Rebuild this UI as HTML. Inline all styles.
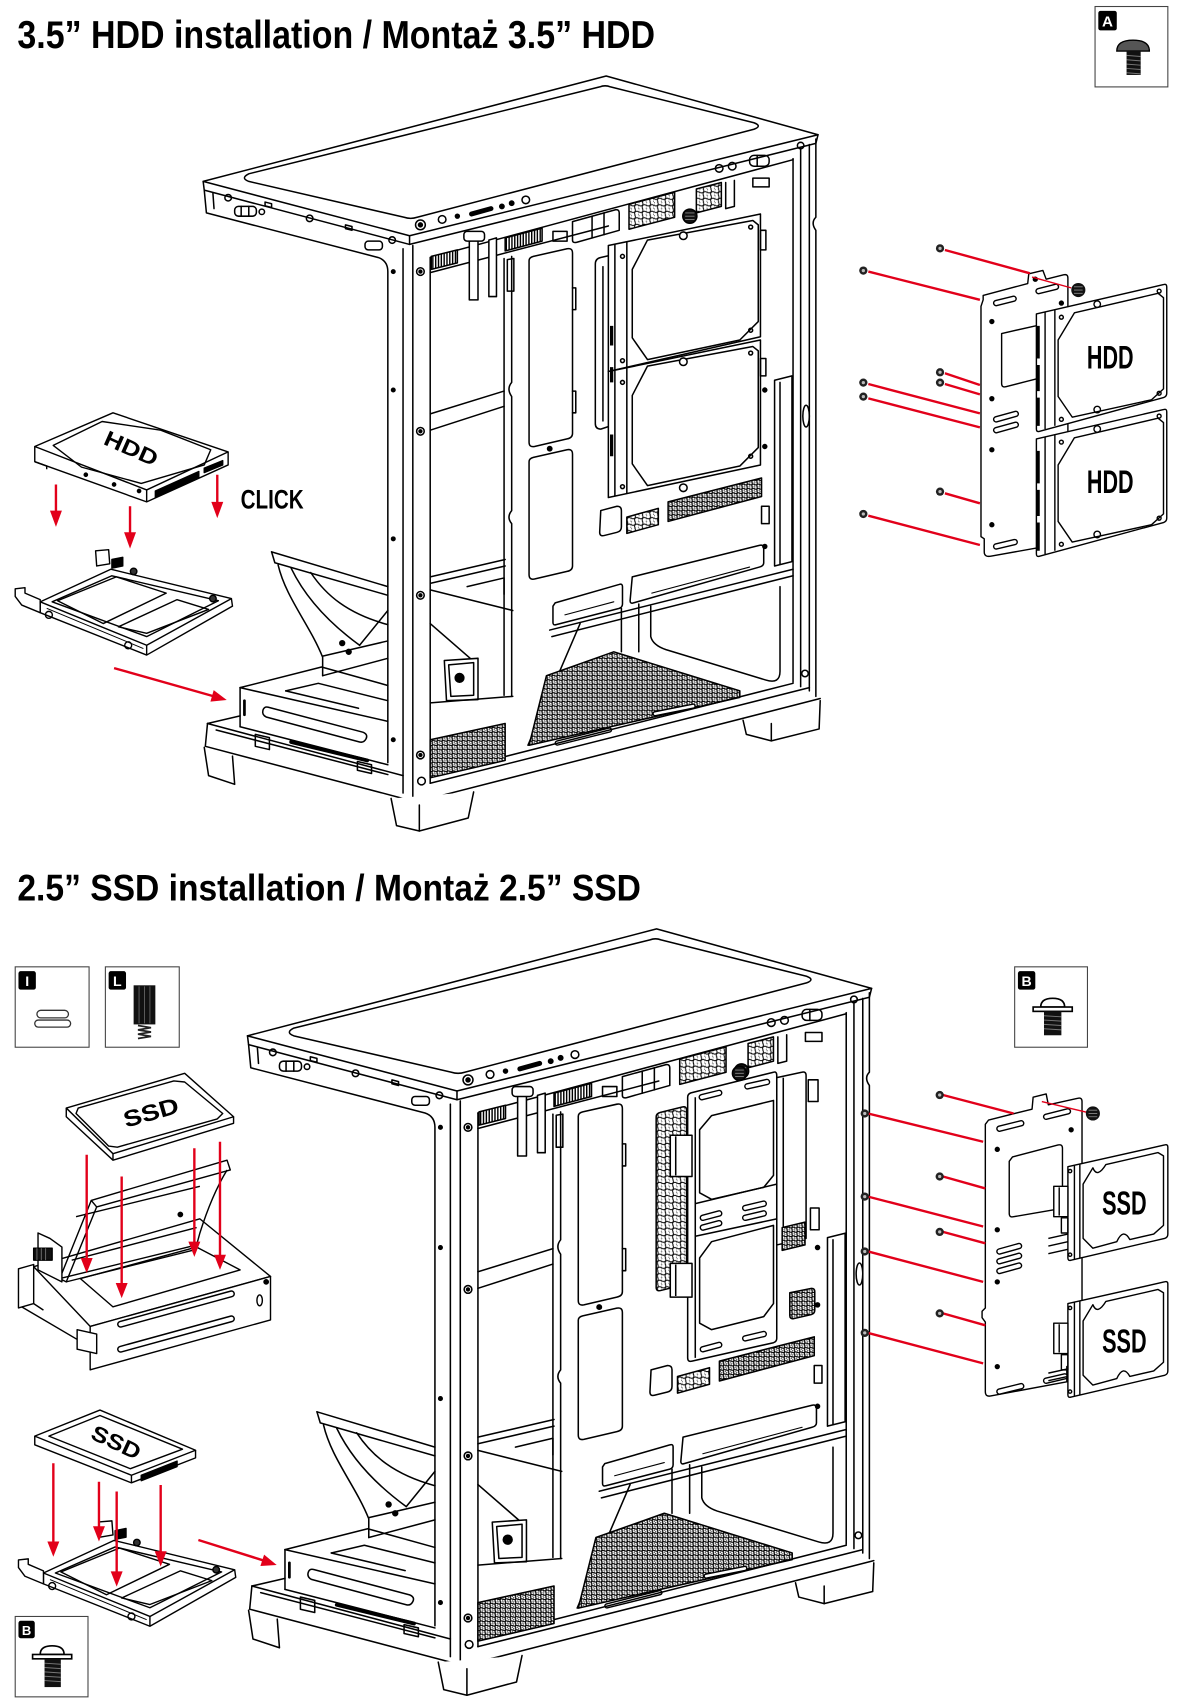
<!DOCTYPE html>
<html><head><meta charset="utf-8"><style>
html,body{margin:0;padding:0;background:#fff;}
svg{display:block;}
.t{font-family:"Liberation Sans Narrow","Liberation Sans",sans-serif;font-weight:bold;fill:#000;stroke:none;}
.w{font-family:"Liberation Sans",sans-serif;font-weight:bold;fill:#fff;stroke:none;}
</style></head><body>
<svg width="1195" height="1705" viewBox="0 0 1100 1569.5" preserveAspectRatio="none" xmlns="http://www.w3.org/2000/svg">
<defs>
 <pattern id="hex" width="4.6" height="4" patternUnits="userSpaceOnUse">
  <rect width="4.6" height="4" fill="#fff"/>
  <circle cx="1.15" cy="1" r="1.35" fill="none" stroke="#000" stroke-width="1"/>
  <circle cx="3.45" cy="3" r="1.35" fill="none" stroke="#000" stroke-width="1"/>
 </pattern>
 <pattern id="hex2" width="7" height="6" patternUnits="userSpaceOnUse">
  <rect width="7" height="6" fill="#fff"/>
  <circle cx="1.75" cy="1.5" r="2.1" fill="none" stroke="#000" stroke-width="0.9"/>
  <circle cx="5.25" cy="4.5" r="2.1" fill="none" stroke="#000" stroke-width="0.9"/>
 </pattern>
 <pattern id="hatch" width="2.6" height="10" patternUnits="userSpaceOnUse">
  <rect width="2.6" height="10" fill="#fff"/>
  <rect width="1.3" height="10" fill="#000"/>
 </pattern>
 <g id="sc"><circle r="3.8" fill="#222"/><circle r="1.5" fill="#bbb"/></g>
 <g id="ts"><circle r="6.5" fill="#111"/><path d="M-4,-3 L4,-3 M-4,0 L4,0 M-4,3 L4,3" stroke="#888" stroke-width="0.8"/></g>

 <g id="frame" fill="none" stroke="#000" stroke-width="1.4" stroke-linejoin="round" stroke-linecap="round">
  <path d="M187,167 L558,70 L753,124 L377,217 Z" fill="#fff"/>
  <path d="M187,167 L188,175 L377,225 L751,132 L753,124"/>
  <path d="M377,217 L377,225"/>
  <path d="M229,160 L552,80 Q557,78 562,80 L694,113 Q702,116 694,119 L384,200 Q378,202 372,200 L229,167 Q221,164 229,160 Z"/>
  <circle cx="387" cy="207" r="4.5"/><circle cx="387" cy="207" r="1.8" fill="#000"/>
  <circle cx="407" cy="202" r="3.5"/>
  <circle cx="421" cy="199" r="1.8" fill="#000"/>
  <path d="M434,197 L452,192" stroke-width="4.5"/>
  <circle cx="462" cy="190" r="2" fill="#000"/>
  <circle cx="471" cy="187" r="2" fill="#000"/>
  <circle cx="484" cy="184" r="3.5"/>
  <path d="M188,175 L190,196 L348,237 Q357,240 357,250 L357,702"/>
  <path d="M196,178 L197,192"/>
  <circle cx="210" cy="182" r="3"/>
  <rect x="216" y="190" width="20" height="9" rx="3.5"/>
  <path d="M222,190 L222,199 M229,190 L229,199"/>
  <circle cx="241" cy="195" r="2.5"/>
  <path d="M244,186 L250,187.5 L250,191 L244,189.5 Z"/>
  <circle cx="285" cy="201" r="3"/>
  <path d="M318,207 L324,208.5 L324,212 L318,210.5 Z"/>
  <rect x="336" y="222" width="16" height="8" rx="3"/>
  <circle cx="361" cy="221" r="3"/>
  <path d="M371,229 L371,730"/>
  <path d="M380,226 L380,739"/>
  <path d="M396,237 L396,721"/>
  <circle cx="387" cy="250" r="3.5"/><circle cx="387" cy="250" r="1.3" fill="#000"/>
  <circle cx="387" cy="397" r="3.5"/><circle cx="387" cy="397" r="1.3" fill="#000"/>
  <circle cx="387" cy="548" r="3.5"/><circle cx="387" cy="548" r="1.3" fill="#000"/>
  <circle cx="387" cy="695" r="3.5"/><circle cx="387" cy="695" r="1.3" fill="#000"/>
  <circle cx="388" cy="719" r="3.5"/>
  <circle cx="362" cy="250" r="1.6" fill="#000"/>
  <circle cx="362" cy="359" r="1.6" fill="#000"/>
  <circle cx="362" cy="496" r="1.6" fill="#000"/>
  <circle cx="362" cy="681" r="1.6" fill="#000"/>
  <path d="M751,128 L751,200 Q746,205 751,212 L751,641"/>
  <path d="M745,133 L745,636"/>
  <path d="M737,136 L737,632"/>
  <path d="M730,146 L730,628"/>
  <ellipse cx="742" cy="383" rx="3" ry="10"/>
  <circle cx="737" cy="134" r="3"/>
  <circle cx="741" cy="620" r="3"/>
  <circle cx="704" cy="359" r="1.8" fill="#000"/>
  <circle cx="704" cy="411" r="1.8" fill="#000"/>
  <circle cx="704" cy="503" r="1.8" fill="#000"/>
  <path d="M396,237 L730,147"/>
  <path d="M396,251 L560,208"/>
  <path d="M397,236 L421,230 L421,242 L397,248 Z" fill="url(#hatch)"/>
  <path d="M465,219 L499,210 L499,222 L465,231 Z" fill="url(#hatch)"/>
  <path d="M432,222 L440,220 L440,276 L432,276 Z" fill="#fff"/>
  <path d="M450,221 L457,219 L457,273 L450,273 Z" fill="#fff"/>
  <path d="M467,239 L473,238 L473,268 L467,268 Z" fill="#fff"/>
  <rect x="427" y="213" width="19" height="9" rx="3" fill="#fff"/>
  <rect x="509" y="213" width="13" height="9"/>
  <path d="M527,204 L567,193 Q570,193 570,196 L570,212 L531,223 Q527,224 527,221 Z"/>
  <path d="M545,199 L545,219 M556,196 L556,216"/>
  <path d="M579,188 L621,177 L621,200 L579,211 Z" fill="url(#hex2)"/>
  <path d="M641,174 L664,168 L664,190 L641,196 Z" fill="url(#hex2)"/>
  <path d="M668,168 L668,192 L676,190 L676,166"/>
  <use href="#ts" x="635" y="199"/>
  <circle cx="662" cy="155" r="3.5"/><circle cx="674" cy="153" r="3.5"/>
  <rect x="690" y="143" width="18" height="10" rx="4"/>
  <path d="M697,143 L697,153"/>
  <rect x="693" y="164" width="15" height="8"/>
  <path d="M471,236 L471,352 Q466,358 471,365 L471,470 Q466,476 471,482 L471,641"/>
  <path d="M464,238 L464,640"/>
  <path d="M396,381 L464,360"/>
  <path d="M396,396 L464,374"/>
  <path d="M491,236 L522,229 Q527,228 527,233 L527,399 Q527,403 522,404 L492,411 Q487,412 487,407 L487,240 Q487,237 491,236 Z"/>
  <path d="M527,265 L530,265 L530,285 L527,285 M527,360 L530,360 L530,380 L527,380"/>
  <path d="M491,421 L522,414 Q527,413 527,418 L527,521 Q527,525 522,526 L492,533 Q487,534 487,529 L487,425 Q487,422 491,421 Z"/>
  <circle cx="506" cy="413" r="2" fill="#000"/>
  <path d="M553,470 L568,466 Q572,466 572,470 L572,485 Q572,489 568,490 L556,493 Q552,494 552,490 Z"/>
  <path d="M615,462 L701,440 L701,457 L615,480 Z" fill="url(#hex)"/>
  <path d="M577,476 L606,468 L606,483 L577,491 Z" fill="url(#hex2)"/>
  <rect x="701" y="466" width="7" height="16"/>
  <path d="M713,350 L729,346 L729,517 L713,521 Z"/>
  <path d="M718,352 L718,519"/>
  <path d="M511,555 L570,538 Q573,537 573,540 L573,556 Q573,559 570,560 L512,575 Q509,576 509,573 L509,558 Z"/>
  <path d="M582,531 L699,502 Q703,501 703,505 L703,518 Q703,521 699,522 L583,555 Q580,556 580,553 Z"/>
  <path d="M520,566 L565,554 M600,546 L690,522" stroke-width="1"/>
  <path d="M506,580 L730,524"/>
  <path d="M508,586 L730,530"/>
  <path d="M396,531 L465,515"/>
  <path d="M396,537 L465,521"/>
  <path d="M396,543 L472,562"/>
  <path d="M430,540 L464,532 L464,547"/>
  <path d="M396,574 L434,607"/>
  <path d="M409,608 L440,606 L440,644 L411,645 Z" fill="#fff"/>
  <path d="M413,612 L436,610 L436,640 L415,641 Z"/>
  <circle cx="423" cy="624" r="4" fill="#000"/>
  <path d="M396,647 L472,641"/>
  <path d="M534,574 L486,686"/>
  <path d="M599,558 L599,586 Q601,594 613,598 L705,626 Q718,630 718,618 L718,540"/>
  <path d="M572,560 L572,600"/>
  <path d="M588,556 L588,600"/>
  <path d="M487,686 L503,622 L565,600 L681,636 L681,642 Z" fill="url(#hex)"/>
  <path d="M513,684 L561,672" stroke-width="5"/><path d="M513,684 L561,672" stroke="#fff" stroke-width="2.4"/>
  <path d="M603,657 L638,650" stroke-width="5"/><path d="M603,657 L638,650" stroke="#fff" stroke-width="2.4"/>
  <path d="M380,739 L755,643"/>
  <path d="M396,721 L745,633"/>
  <path d="M396,714 L730,629"/>
  <path d="M396,681 L465,666 L465,700 L396,716 Z" fill="url(#hex)"/>
  <path d="M191,666 L221,659"/>
  <path d="M191,666 L371,714"/>
  <path d="M191,666 L189,687 L371,735"/>
  <path d="M199,672 L357,713"/>
  <path d="M235,676 L248,679 L248,690 L235,687 Z"/>
  <path d="M329,701 L342,704 L342,712 L329,709 Z"/>
  <path d="M221,633 L221,669"/>
  <path d="M221,633 L296,614 L357,631"/>
  <path d="M221,633 L357,664"/>
  <path d="M221,669 L357,704"/>
  <path d="M263,636 L293,629 L357,645"/>
  <path d="M263,636 L330,652"/>
  <path d="M247,651 L334,674 Q339,676 337,680 Q335,684 331,683 L245,660 Q241,658 242,654 Q243,650 247,651 Z"/>
  <path d="M268,683 L338,700" stroke-width="3.5"/>
  <path d="M225,645 L225,658" stroke-width="2.5"/>
  <path d="M188,688 L192,714 L216,722 L214,696" fill="#fff"/>
  <path d="M360,735 L365,760 L386,765 L431,753 L436,729" fill="#fff"/>
  <path d="M386,741 L386,765"/>
  <path d="M684,663 L687,676 L710,682 L754,671 L755,645" fill="#fff"/>
  <path d="M710,666 L710,682"/>
  <path d="M250,508 L357,540"/>
  <path d="M250,508 L253,518 L357,548"/>
  <path d="M256,520 C263,550 285,575 297,605 L297,622"/>
  <path d="M268,523 C282,552 305,575 331,594"/>
  <path d="M286,527 C300,548 320,565 357,575"/>
  <path d="M331,594 L357,562"/>
  <path d="M297,604 L357,590"/>
  <path d="M297,622 L357,606"/>
  <circle cx="315" cy="592" r="2.2" fill="#000"/>
  <circle cx="321" cy="600" r="2.2" fill="#000"/>
 </g>

 <g id="tray" fill="none" stroke="#000" stroke-width="1.3" stroke-linejoin="round">
  <path d="M37,554 L102,524 L213,551 L135,594 Z" fill="#fff"/>
  <path d="M37,554 L37,564 L135,603 L214,558 L213,551"/>
  <path d="M135,594 L135,603"/>
  <path d="M43,560 L132,597" stroke-width="0.9"/>
  <path d="M48,554 L103,530 L201,553 L135,586 Z"/>
  <path d="M53,553 L107,531 L153,546 L95,574 Z"/>
  <path d="M109,577 L163,552 L192,561 L135,583 Z"/>
  <path d="M14,542 L23,541 L23,546 L37,552 L37,564 L20,557 L14,549 Z" fill="#fff"/>
  <path d="M88,507 L100,506 L101,519 L89,521 Z" fill="#fff"/>
  <path d="M103,515 L113,513 L113,521 L103,523 Z" fill="#000"/>
  <circle cx="45" cy="566" r="3.2"/>
  <circle cx="118" cy="594" r="3.2"/>
  <circle cx="123" cy="526" r="3" fill="#333"/>
  <circle cx="196" cy="551" r="3" fill="#333"/>
 </g>
</defs>

<!-- ============ SECTION 1 ============ -->
<text class="t" x="16" y="44" font-size="36" textLength="587" lengthAdjust="spacingAndGlyphs">3.5” HDD installation / Montaż 3.5” HDD</text>

<rect x="1008" y="6" width="67" height="74" fill="#fff" stroke="#444" stroke-width="1"/>
<rect x="1011" y="10" width="17" height="18" rx="2" fill="#000"/>
<text class="w" x="1019.5" y="24.5" font-size="14" text-anchor="middle">A</text>
<path d="M1028,47 Q1028,37 1043,37 Q1058,37 1058,47 Z" fill="#555" stroke="#000" stroke-width="1.2"/>
<rect x="1037" y="47" width="13" height="22" fill="#111"/>
<path d="M1037,51 L1050,52 M1037,55 L1050,56 M1037,59 L1050,60 M1037,63 L1050,64 M1037,67 L1050,68" stroke="#777" stroke-width="0.9"/>

<use href="#frame"/>
<g fill="none" stroke="#000" stroke-width="1.4" stroke-linejoin="round">
 <path d="M548,243 Q548,238 553,237 L562,235 L562,392 L553,395 Q548,395 548,390 Z" fill="#fff"/>
 <path d="M555,245 L555,388"/>
 <path d="M560,226 L700,197 L700,310 L560,342 Z" fill="#fff"/>
 <path d="M566,225 L566,341"/>
 <path d="M577,222 L577,338"/>
 <path d="M582,248 L596,221 L693,203 L698,207 L698,296 L681,313 L596,331 L582,311 Z"/>
 <circle cx="629" cy="217" r="3.5" fill="#fff"/>
 <path d="M560,342 L700,313 L700,428 L560,458 Z" fill="#fff"/>
 <path d="M566,341 L566,457"/>
 <path d="M577,338 L577,454"/>
 <path d="M582,364 L596,337 L693,319 L698,323 L698,412 L681,429 L596,447 L582,427 Z"/>
 <circle cx="629" cy="333" r="3.5" fill="#fff"/>
 <circle cx="629" cy="449" r="3.5" fill="#fff"/>
 <path d="M563,300 L563,318 M563,338 L563,352 M563,400 L563,420" stroke-width="3"/>
 <rect x="700" y="212" width="5" height="18"/>
 <rect x="700" y="330" width="5" height="16"/>
 <circle cx="573" cy="236" r="1.8"/><circle cx="691" cy="209" r="1.8"/>
 <circle cx="573" cy="332" r="1.8"/><circle cx="691" cy="304" r="1.8"/>
 <circle cx="573" cy="352" r="1.8"/><circle cx="691" cy="325" r="1.8"/>
 <circle cx="573" cy="448" r="1.8"/><circle cx="691" cy="420" r="1.8"/>
</g>

<g fill="none" stroke="#000" stroke-width="1.3" stroke-linejoin="round">
 <path d="M32,411 L104,380 L210,416 L135,451 Z" fill="#fff"/>
 <path d="M32,411 L32,425 L135,462 L210,428 L210,416"/>
 <path d="M135,451 L135,462"/>
 <path d="M49,410 L94,388 L148,396 L194,414 L188,428 L130,445 L75,430 Z"/>
 <path d="M143,452 L183,434 L183,440 L143,458 Z" fill="#000"/>
 <path d="M188,431 L205,424 L205,428 L188,435 Z" fill="#000"/>
 <path d="M32,425 L43,429 L43,432" />
 <circle cx="79" cy="437" r="1.5" fill="#000"/>
 <circle cx="105" cy="446" r="1.5" fill="#000"/>
 <circle cx="128" cy="452" r="1.5" fill="#000"/>
</g>
<text class="t" font-size="20" text-anchor="middle" textLength="52" lengthAdjust="spacingAndGlyphs" transform="translate(118,419) rotate(24)">HDD</text>
<use href="#tray"/>

<g stroke="#e2001a" stroke-width="2.2" fill="#e2001a">
 <path d="M51.5,446 L51.5,472"/><path d="M46,470 L57,470 L51.5,485 Z" stroke="none"/>
 <path d="M119.7,466 L119.7,492"/><path d="M114.2,490 L125.2,490 L119.7,505 Z" stroke="none"/>
 <path d="M200,437 L200,464"/><path d="M194.5,462 L205.5,462 L200,477 Z" stroke="none"/>
 <path d="M105,615 L197,641"/><path d="M208.7,644.4 L196.7,635.3 L193.7,645.9 Z" stroke="none"/>
</g>
<text class="t" x="221.5" y="468" font-size="25" textLength="58" lengthAdjust="spacingAndGlyphs">CLICK</text>

<g fill="none" stroke="#000" stroke-width="1.3" stroke-linejoin="round">
 <path d="M905,272 L946,261 L947,252 L960,249 L963,257 L979,253 Q983,252 983,256 L983,495 Q983,499 979,500 L912,512 Q906,513 906,508 L906,496 L903,494 L903,282 L905,276 Z" fill="#fff"/>
 <path d="M922,307 L953,300 Q957,299 957,303 L957,344 Q957,348 953,349 L926,356 Q922,357 922,353 Z"/>
 <g stroke-linecap="round">
  <path d="M917,279 L933,275 M956,268 L972,264 M917,386 L935,381 M917,396 L935,391 M917,503 L934,499" stroke-width="6"/>
  <path d="M917,279 L933,275 M956,268 L972,264 M917,386 L935,381 M917,396 L935,391 M917,503 L934,499" stroke="#fff" stroke-width="3.4"/>
 </g>
 <circle cx="913" cy="296" r="1.8" fill="#000"/>
 <circle cx="913" cy="367" r="1.8" fill="#000"/>
 <circle cx="913" cy="414" r="1.8" fill="#000"/>
 <circle cx="913" cy="483" r="1.8" fill="#000"/>
 <circle cx="977" cy="279" r="1.8" fill="#000"/>
 <circle cx="953" cy="257" r="1.8" fill="#000"/>
 <g id="hdd1">
  <path d="M954,289 L1071,262 Q1074,261 1074,264 L1074,362 Q1074,365 1071,366 L957,397 Q954,398 954,395 Z" fill="#fff"/>
  <path d="M962,287 L962,395"/>
  <path d="M971,285 L971,392"/>
  <path d="M974,313 L989,288 L1066,270 L1071,274 L1071,358 L1060,368 L987,384 L974,365 Z"/>
  <path d="M955.5,300 L955.5,330 M955.5,336 L955.5,360 M955.5,366 L955.5,392" stroke-width="3.2"/>
  <circle cx="977" cy="292" r="1.8"/><circle cx="1067" cy="268" r="1.8"/>
  <circle cx="977" cy="386" r="1.8"/><circle cx="1067" cy="362" r="1.8"/>
  <circle cx="1010" cy="280" r="3"/><circle cx="1010" cy="377" r="3"/>
 </g>
 <use href="#hdd1" y="115"/>
</g>
<text class="t" x="1022" y="339" font-size="30" text-anchor="middle" textLength="43" lengthAdjust="spacingAndGlyphs">HDD</text>
<text class="t" x="1022" y="454" font-size="30" text-anchor="middle" textLength="43" lengthAdjust="spacingAndGlyphs">HDD</text>
<g stroke="#e2001a" stroke-width="2.2" fill="none">
 <path d="M869.8,230.1 L948,251.6"/>
 <path d="M950,255 L986,265" stroke-width="1.3"/>
 <path d="M799.3,250 L902,276"/>
 <path d="M869.8,343.6 L902,354.4"/>
 <path d="M869.8,353.5 L902,363"/>
 <path d="M799.3,353.5 L902,380.5"/>
 <path d="M799.3,366.7 L902,393.4"/>
 <path d="M869.8,454.1 L902,463.3"/>
 <path d="M799.3,474.7 L902,501.7"/>
</g>
<use href="#sc" x="865.3" y="228.6"/><use href="#sc" x="794.7" y="249.1"/>
<use href="#sc" x="865.3" y="342.7"/><use href="#sc" x="865.3" y="352.2"/>
<use href="#sc" x="794.7" y="352.2"/><use href="#sc" x="794.7" y="365.1"/>
<use href="#sc" x="865.3" y="452.6"/><use href="#sc" x="794.7" y="473.1"/>
<use href="#ts" x="992.6" y="267"/>

<!-- ============ SECTION 2 ============ -->
<text class="t" x="16" y="829" font-size="34" textLength="574" lengthAdjust="spacingAndGlyphs">2.5” SSD installation / Montaż 2.5” SSD</text>

<rect x="14" y="890" width="68" height="74" fill="#fff" stroke="#444" stroke-width="1"/>
<rect x="17" y="894" width="16" height="17" rx="2" fill="#000"/>
<text class="w" x="25" y="907.5" font-size="13" text-anchor="middle">I</text>
<rect x="34" y="930" width="29" height="7" rx="3.5" fill="#fff" stroke="#333" stroke-width="1.2"/>
<rect x="32" y="939" width="33" height="6.5" rx="3.2" fill="#fff" stroke="#333" stroke-width="1.2"/>
<rect x="97" y="890" width="68" height="74" fill="#fff" stroke="#444" stroke-width="1"/>
<rect x="100" y="894" width="16" height="17" rx="2" fill="#000"/>
<text class="w" x="108" y="907.5" font-size="13" text-anchor="middle">L</text>
<rect x="123" y="907" width="20" height="36" fill="#111"/>
<path d="M128,908 L128,942 M133,908 L133,942 M138,908 L138,942" stroke="#666" stroke-width="0.8"/>
<path d="M127,944 L139,946 L127,948 L139,950 L127,952 L139,954 L127,956" fill="none" stroke="#222" stroke-width="1.6"/>
<rect x="934" y="890" width="67" height="74" fill="#fff" stroke="#444" stroke-width="1"/>
<rect x="937" y="894" width="16" height="17" rx="2" fill="#000"/>
<text class="w" x="945" y="907.5" font-size="13" text-anchor="middle">B</text>
<path d="M958,927 Q958,919 969,919 Q980,919 980,927 Z" fill="#fff" stroke="#000" stroke-width="1.5"/>
<rect x="951" y="927" width="36" height="4" fill="#fff" stroke="#000" stroke-width="1.5"/>
<rect x="961" y="931" width="16" height="22" fill="#111"/>
<path d="M961,935 L977,936 M961,939 L977,940 M961,943 L977,944 M961,947 L977,948" stroke="#777" stroke-width="0.9"/>
<rect x="14" y="1488" width="67" height="74" fill="#fff" stroke="#444" stroke-width="1"/>
<rect x="17" y="1492" width="15" height="16" rx="2" fill="#000"/>
<text class="w" x="24.5" y="1505" font-size="12" text-anchor="middle">B</text>
<path d="M37,1523 Q37,1515 48,1515 Q59,1515 59,1523 Z" fill="#fff" stroke="#000" stroke-width="1.5"/>
<rect x="30" y="1523" width="36" height="4" fill="#fff" stroke="#000" stroke-width="1.5"/>
<rect x="41" y="1527" width="15" height="26" fill="#111"/>
<path d="M41,1531 L56,1532 M41,1535 L56,1536 M41,1539 L56,1540 M41,1543 L56,1544 M41,1547 L56,1548" stroke="#777" stroke-width="0.9"/>

<use href="#frame" transform="translate(38,784) scale(1.015)"/>
<g fill="none" stroke="#000" stroke-width="1.4" stroke-linejoin="round">
 <path d="M608,1024 L628,1019 Q632,1018 632,1022 L632,1178 Q632,1182 628,1183 L608,1188 Q604,1189 604,1185 L604,1028 Q604,1025 608,1024 Z" fill="url(#hex2)"/>
 <path d="M715,992 L738,987 Q742,986 742,990 L742,1140 L715,1146 Z" fill="#fff"/>
 <path d="M721,992 L721,1144"/>
 <path d="M720,1130 L741,1125 L741,1146 L720,1151 Z" fill="url(#hex)"/>
 <path d="M636,1006 L712,987 Q715,986 715,990 L715,1232 Q715,1235 712,1236 L637,1253 Q633,1254 633,1250 L633,1010 Q633,1007 636,1006 Z" fill="#fff"/>
 <path d="M640,1010 L640,1250"/>
 <path d="M644,1040 L655,1027 L712,1013 L712,1082 L703,1093 L655,1104 L644,1098 Z"/>
 <path d="M644,1158 L655,1143 L712,1128 L712,1200 L703,1212 L655,1224 L644,1218 Z"/>
 <path d="M640,1108 L715,1090 M640,1138 L715,1122"/>
 <rect x="617" y="1045" width="20" height="38" fill="#fff"/>
 <path d="M622,1046 L622,1082"/>
 <rect x="617" y="1163" width="20" height="31" fill="#fff"/>
 <path d="M622,1164 L622,1193"/>
 <g stroke-linecap="round">
  <path d="M646,1010 L662,1006 M688,1000 L706,996 M647,1121 L662,1117 M647,1130 L662,1126 M686,1112 L703,1108 M686,1121 L703,1117 M647,1242 L662,1238 M686,1232 L703,1228" stroke-width="6"/>
  <path d="M646,1010 L662,1006 M688,1000 L706,996 M647,1121 L662,1117 M647,1130 L662,1126 M686,1112 L703,1108 M686,1121 L703,1117 M647,1242 L662,1238 M686,1232 L703,1228" stroke="#fff" stroke-width="3.4"/>
 </g>
 <path d="M727,1190 L747,1186 Q750,1186 750,1189 L750,1206 Q750,1209 747,1210 L730,1214 Q727,1214 727,1211 Z" fill="url(#hex)"/>
 <rect x="744" y="994" width="9" height="20"/>
 <rect x="746" y="1112" width="8" height="20"/>
 <use href="#ts" x="680.7" y="988"/>
</g>

<g fill="none" stroke="#000" stroke-width="1.3" stroke-linejoin="round">
 <path d="M31,1166 L184,1122 L249,1175 L83,1221 Z" fill="#fff"/>
 <path d="M83,1221 L249,1175 L249,1215 L83,1261 Z" fill="#fff"/>
 <path d="M17,1168 L31,1164 L31,1200 L17,1204 Z" fill="#fff"/>
 <path d="M20,1203 L83,1240"/>
 <path d="M31,1200 L40,1206"/>
 <path d="M71,1224 L89,1228 L89,1246 L71,1242 Z" fill="#fff"/>
 <path d="M74,1177 L181,1148 L221,1169 L104,1203 Z"/>
 <g stroke-linecap="round">
  <path d="M111,1219 L213,1191 M111,1242 L213,1214" stroke-width="6.5"/>
  <path d="M111,1219 L213,1191 M111,1242 L213,1214" stroke="#fff" stroke-width="3.8"/>
 </g>
 <ellipse cx="239" cy="1197" rx="2.5" ry="5"/>
 <circle cx="245" cy="1180" r="2" fill="#000"/>
 <path d="M84,1105 L209,1068 L212,1077 L89,1111 Z" fill="#fff"/>
 <path d="M84,1105 L55,1177 L61,1180 L89,1111"/>
 <path d="M209,1077 Q195,1100 184,1135 L181,1146"/>
 <path d="M55,1177 L181,1146"/>
 <path d="M61,1180 L181,1150"/>
 <path d="M70,1120 L184,1092"/>
 <path d="M66,1160 L181,1130"/>
 <circle cx="166" cy="1118" r="2" fill="#000"/>
 <path d="M35,1135 L46,1140 L57,1148 L57,1180 L35,1169 Z" fill="#fff"/>
 <rect x="31" y="1149" width="17" height="11" fill="#111"/>
 <path d="M34,1149 L34,1160 M38,1149 L38,1160 M42,1149 L42,1160" stroke="#777" stroke-width="0.8"/>
</g>
<g fill="none" stroke="#000" stroke-width="1.3" stroke-linejoin="round">
 <path d="M61,1020 L170,988 L215,1028 L104,1062 Z" fill="#fff"/>
 <path d="M61,1020 L61,1028 L104,1068 L215,1034 L215,1028"/>
 <path d="M104,1062 L104,1068"/>
 <path d="M72,1020 L160,995 L170,996 L205,1025 L200,1030 L108,1056 L100,1055 L70,1025 Z"/>
</g>
<text class="t" font-size="21" text-anchor="middle" textLength="52" lengthAdjust="spacingAndGlyphs" transform="translate(141,1031) rotate(-16)">SSD</text>
<g fill="none" stroke="#000" stroke-width="1.3" stroke-linejoin="round">
 <path d="M32,1322 L92,1298 L180,1335 L121,1358 Z" fill="#fff"/>
 <path d="M32,1322 L32,1330 L121,1365 L180,1342 L180,1335"/>
 <path d="M121,1358 L121,1365"/>
 <path d="M45,1322 L92,1303 L168,1334 L120,1352 Z"/>
 <path d="M130,1358 L163,1345 L163,1350 L130,1363 Z" fill="#000"/>
</g>
<text class="t" font-size="20" text-anchor="middle" textLength="48" lengthAdjust="spacingAndGlyphs" transform="translate(104,1334) rotate(25)">SSD</text>
<use href="#tray" transform="translate(3,894)"/>

<g stroke="#e2001a" stroke-width="2.2" fill="#e2001a">
 <path d="M79.8,1063 L79.8,1160"/><path d="M74.3,1158 L85.3,1158 L79.8,1172 Z" stroke="none"/>
 <path d="M112,1083 L112,1183"/><path d="M106.5,1181 L117.5,1181 L112,1195 Z" stroke="none"/>
 <path d="M178.9,1057 L178.9,1145"/><path d="M173.4,1143 L184.4,1143 L178.9,1157 Z" stroke="none"/>
 <path d="M202.5,1051 L202.5,1157"/><path d="M197,1155 L208,1155 L202.5,1169 Z" stroke="none"/>
 <path d="M49.1,1347 L49.1,1421"/><path d="M43.6,1419 L54.6,1419 L49.1,1433 Z" stroke="none"/>
 <path d="M91.1,1364 L91.1,1407"/><path d="M85.6,1405 L96.6,1405 L91.1,1419 Z" stroke="none"/>
 <path d="M107.4,1373 L107.4,1448"/><path d="M101.9,1446.5 L112.9,1446.5 L107.4,1460.5 Z" stroke="none"/>
 <path d="M147.9,1367 L147.9,1430"/><path d="M142.4,1428 L153.4,1428 L147.9,1442 Z" stroke="none"/>
 <path d="M182.6,1417.6 L242,1436.3"/><path d="M254.7,1440.6 L243.1,1431.1 L239.7,1441.5 Z" stroke="none"/>
</g>

<g fill="none" stroke="#000" stroke-width="1.3" stroke-linejoin="round">
 <path d="M910,1031 L950,1021 L951,1010 L963,1007 L965,1017 L992,1011 Q996,1010 996,1014 L996,1250 Q996,1254 992,1255 L982,1258 L982,1272 L912,1285 Q907,1286 907,1281 L907,1217 L904,1213 L904,1207 L907,1204 L907,1035 Z" fill="#fff"/>
 <path d="M932,1065 L974,1054 Q978,1053 978,1057 L978,1108 Q978,1112 974,1113 L933,1120 Q929,1121 929,1117 L929,1069 Z"/>
 <g stroke-linecap="round">
  <path d="M920,1039 L940,1034 M963,1028 L983,1023 M920,1152 L938,1147 M920,1161 L938,1156 M920,1170 L938,1165 M920,1281 L940,1276 M963,1271 L980,1267" stroke-width="6"/>
  <path d="M920,1039 L940,1034 M963,1028 L983,1023 M920,1152 L938,1147 M920,1161 L938,1156 M920,1170 L938,1165 M920,1281 L940,1276 M963,1271 L980,1267" stroke="#fff" stroke-width="3.4"/>
 </g>
 <circle cx="918" cy="1058" r="1.8" fill="#000"/>
 <circle cx="918" cy="1132" r="1.8" fill="#000"/>
 <circle cx="918" cy="1180" r="1.8" fill="#000"/>
 <circle cx="918" cy="1258" r="1.8" fill="#000"/>
 <circle cx="986" cy="1040" r="1.8" fill="#000"/>
 <path d="M965,1140 L983,1136 M965,1147 L983,1143 M965,1154 L983,1150" />
 <path d="M965,1264 L983,1260 M965,1271 L983,1267"/>
 <g id="ssd1">
  <path d="M983,1074 L1072,1054 Q1075,1053 1075,1056 L1075,1136 Q1075,1139 1072,1140 L986,1160 Q983,1161 983,1158 Z" fill="#fff"/>
  <path d="M989,1073 L989,1159"/>
  <path d="M994,1072 L994,1158"/>
  <path d="M997,1090 L1006,1075 Q1010,1085 1018,1072 L1066,1061 L1071,1064 L1071,1128 L1062,1136 L1040,1141 Q1034,1130 1028,1143 L1006,1149 L997,1140 Z"/>
  <rect x="970" y="1092" width="13" height="28" fill="#fff"/>
  <path d="M975,1093 L975,1119"/>
  <rect x="977" y="1121" width="6" height="14"/>
  <circle cx="985" cy="1078" r="1.5"/><circle cx="985" cy="1155" r="1.5"/>
 </g>
 <use href="#ssd1" y="126"/>
</g>
<text class="t" x="1035" y="1118" font-size="31" text-anchor="middle" textLength="41" lengthAdjust="spacingAndGlyphs">SSD</text>
<text class="t" x="1035" y="1245" font-size="31" text-anchor="middle" textLength="41" lengthAdjust="spacingAndGlyphs">SSD</text>
<g stroke="#e2001a" stroke-width="2.2" fill="none">
 <path d="M799,1025 L905,1051"/>
 <path d="M799,1101.5 L905,1129"/>
 <path d="M799,1152 L905,1180"/>
 <path d="M799,1227 L905,1255"/>
 <path d="M868,1008 L933,1025"/>
 <path d="M868,1083 L907,1094"/>
 <path d="M868,1134 L907,1144.5"/>
 <path d="M868,1209 L907,1220"/>
 <path d="M959,1014 L1001,1024" stroke-width="1.3"/>
</g>
<use href="#sc" x="796" y="1025"/><use href="#sc" x="796" y="1101.5"/>
<use href="#sc" x="796" y="1152"/><use href="#sc" x="796" y="1227"/>
<use href="#sc" x="865" y="1008"/><use href="#sc" x="865" y="1083"/>
<use href="#sc" x="865" y="1134"/><use href="#sc" x="865" y="1209"/>
<use href="#ts" x="1006" y="1025"/>
</svg>
</body></html>
